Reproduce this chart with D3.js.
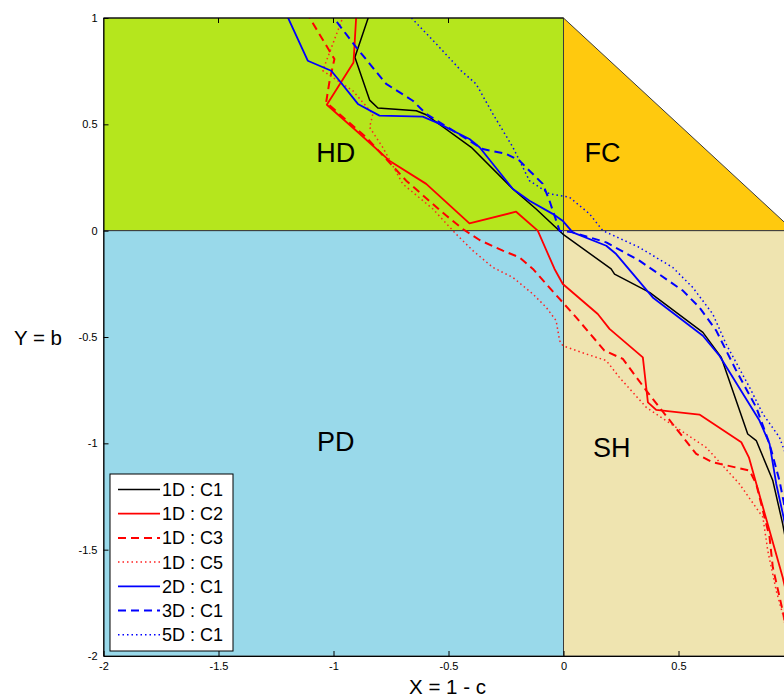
<!DOCTYPE html>
<html>
<head>
<meta charset="utf-8">
<script src="https://cdn.jsdelivr.net/npm/d3@7"></script>
<style>
  body { margin: 0; background: #fff; overflow: hidden; }
  svg { display: block; font-family: "Liberation Sans", Arial, sans-serif; }
  .axis text { font-size: 11px; fill: #000; font-family: "Liberation Sans", Arial, sans-serif; }
  .axis path, .axis line { stroke: #000; }
</style>
</head>
<body>
<div id="chart"></div>
<script>
// tick values (x = 1 sits just past the right edge of the picture)
var xTicks = [-2, -1.5, -1, -0.5, 0, 0.5];
var yTicks = [1, 0.5, 0, -0.5, -1, -1.5, -2];
var topTicks = [-1.5, -1, -0.5];

// regions of the game map (data space)
var regionNames = ["HD", "FC", "PD", "SH"];
var regionPolys = [
  [[-2, 0], [0, 0], [0, 1], [-2, 1]],
  [[0, 0], [1, 0], [0, 1]],
  [[-2, -2], [0, -2], [0, 0], [-2, 0]],
  [[0, -2], [1, -2], [1, 0], [0, 0]]
];
var regionLabelX = [-0.99, 0.17, -0.99, 0.21];
var regionLabelY = [0.37, 0.37, -0.99, -1.02];

// series
var seriesNames = ["1D : C1", "1D : C2", "1D : C3", "1D : C5", "2D : C1", "3D : C1", "5D : C1"];

var d1c1 = [[-0.84, 1.03], [-0.907, 0.815], [-0.843, 0.614], [-0.807, 0.577], [-0.64, 0.564], [-0.597, 0.545],
  [-0.401, 0.392], [-0.22, 0.196], [-0.119, 0.102], [-0.003, -0.016], [0.207, -0.18], [0.222, -0.204],
  [0.374, -0.29], [0.606, -0.478], [0.686, -0.596], [0.801, -0.956], [0.838, -0.987], [0.91, -1.175],
  [0.953, -1.379], [1.0, -1.65]];

var d1c2 = [[-0.9, 1.03], [-0.913, 0.791], [-1.029, 0.592], [-0.901, 0.47], [-0.757, 0.329], [-0.597, 0.22],
  [-0.409, 0.034], [-0.206, 0.089], [-0.112, 0.0], [-0.039, -0.18], [-0.003, -0.251], [0.149, -0.392],
  [0.2, -0.462], [0.345, -0.596], [0.367, -0.807], [0.403, -0.843], [0.591, -0.865], [0.773, -0.995],
  [0.806, -1.066], [0.953, -1.63], [1.0, -1.85]];

var d1c3 = [[-1.12, 1.03], [-0.996, 0.807], [-1.017, 0.705], [-1.032, 0.603], [-0.858, 0.439], [-0.684, 0.235],
  [-0.51, 0.071], [-0.438, 0.008], [-0.365, -0.044], [-0.264, -0.094], [-0.191, -0.126], [-0.133, -0.18],
  [-0.075, -0.251], [-0.017, -0.321], [0.055, -0.408], [0.178, -0.564], [0.258, -0.603], [0.36, -0.752],
  [0.577, -1.05], [0.649, -1.089], [0.809, -1.128], [0.838, -1.191], [0.896, -1.442], [0.91, -1.583],
  [0.953, -1.787], [0.98, -1.95]];

var d1c5 = [[-0.95, 1.03], [-1.047, 0.752], [-0.916, 0.658], [-0.829, 0.549], [-0.843, 0.486], [-0.786, 0.392],
  [-0.699, 0.22], [-0.568, 0.102], [-0.467, -0.016], [-0.394, -0.094], [-0.307, -0.173], [-0.22, -0.22],
  [-0.133, -0.298], [-0.075, -0.361], [-0.032, -0.423], [-0.017, -0.517], [-0.003, -0.541], [0.099, -0.58],
  [0.186, -0.611], [0.243, -0.69], [0.36, -0.831], [0.49, -0.925], [0.62, -1.019], [0.765, -1.191],
  [0.867, -1.348], [0.888, -1.504], [0.925, -1.693], [0.957, -1.818], [0.98, -1.95]];

var d2c1 = [[-1.21, 1.03], [-1.112, 0.799], [-1.01, 0.752], [-0.974, 0.705], [-0.894, 0.596], [-0.8, 0.541],
  [-0.612, 0.536], [-0.553, 0.509], [-0.409, 0.431], [-0.365, 0.392], [-0.22, 0.196], [-0.148, 0.141],
  [-0.047, 0.079], [-0.004, 0.047], [0.04, -0.008], [0.186, -0.071], [0.229, -0.11], [0.388, -0.314],
  [0.606, -0.494], [0.678, -0.588], [0.852, -0.893], [0.896, -1.003], [0.925, -1.191], [0.957, -1.348],
  [1.0, -1.6]];

var d3c1 = [[-1.02, 1.03], [-0.901, 0.862], [-0.771, 0.69], [-0.655, 0.611], [-0.597, 0.549], [-0.351, 0.384],
  [-0.249, 0.361], [-0.191, 0.329], [-0.148, 0.282], [-0.09, 0.22], [-0.061, 0.141], [-0.017, 0.0],
  [0.04, -0.008], [0.186, -0.055], [0.33, -0.141], [0.519, -0.282], [0.591, -0.361], [0.664, -0.47],
  [0.751, -0.658], [0.838, -0.831], [0.896, -1.003], [0.939, -1.175], [0.98, -1.4]];

var d5c1 = [[-0.661, 1.0], [-0.553, 0.878], [-0.445, 0.752], [-0.38, 0.69], [-0.307, 0.549], [-0.22, 0.392],
  [-0.148, 0.235], [-0.061, 0.173], [0.026, 0.157], [0.113, 0.079], [0.171, 0.0], [0.33, -0.079],
  [0.475, -0.173], [0.562, -0.267], [0.649, -0.392], [0.707, -0.533], [0.809, -0.737], [0.867, -0.862],
  [0.939, -0.972], [1.0, -1.15]];

var seriesData = [d1c1, d1c2, d1c3, d1c5, d2c1, d3c1, d5c1];

// styles
var regionColors = ["#b5e61d", "#ffc90e", "#99d9ea", "#efe4b0"];
var seriesStyles = [
  { color: "#000000", dash: null, width: 1.5 },
  { color: "#ff0000", dash: null, width: 1.8 },
  { color: "#ff0000", dash: "8,5", width: 2 },
  { color: "#ff2020", dash: "1.5,3", width: 1.5 },
  { color: "#0000ff", dash: null, width: 1.8 },
  { color: "#0000ff", dash: "8,5", width: 2 },
  { color: "#0000ff", dash: "1.5,3", width: 1.5 }
];

var width = 784;
var height = 697;

var svg = d3.select( "#chart" ).append( "svg" )
  .attr( "width", width )
  .attr( "height", height );

var x = d3.scaleLinear().domain( [-2, 1] ).range( [103.5, 793.5] );
var y = d3.scaleLinear().domain( [-2, 1] ).range( [656, 18] );

function plainNum( d ) { return String( d ); }

// coloured regions
var polyLine = d3.line()
  .x( function ( d ) { return x( d[0] ); } )
  .y( function ( d ) { return y( d[1] ); } );

svg.selectAll( ".region" )
  .data( regionPolys )
  .enter().append( "path" )
  .attr( "class", "region" )
  .attr( "d", function ( d ) { return polyLine( d ) + "Z"; } )
  .style( "fill", function ( d, i ) { return regionColors[i]; } )
  .style( "stroke", "#3a3a3a" )
  .style( "stroke-width", 1 );

// clip for the lines
svg.append( "clipPath" ).attr( "id", "plotclip" )
  .append( "rect" )
  .attr( "x", x( -2 ) )
  .attr( "y", y( 1 ) )
  .attr( "width", x( 1 ) - x( -2 ) )
  .attr( "height", y( -2 ) - y( 1 ) );

svg.append( "g" )
  .attr( "clip-path", "url(#plotclip)" )
  .selectAll( ".series" )
  .data( seriesData )
  .enter().append( "path" )
  .attr( "class", "series" )
  .attr( "d", polyLine )
  .style( "fill", "none" )
  .style( "stroke", function ( d, i ) { return seriesStyles[i].color; } )
  .style( "stroke-width", function ( d, i ) { return seriesStyles[i].width; } )
  .style( "stroke-dasharray", function ( d, i ) { return seriesStyles[i].dash; } )
  .style( "stroke-linejoin", "round" );

// region labels
svg.selectAll( ".region-label" )
  .data( regionNames )
  .enter().append( "text" )
  .attr( "class", "region-label" )
  .attr( "x", function ( d, i ) { return x( regionLabelX[i] ); } )
  .attr( "y", function ( d, i ) { return y( regionLabelY[i] ); } )
  .attr( "dy", "0.36em" )
  .style( "text-anchor", "middle" )
  .style( "font-size", "27px" )
  .text( function ( d ) { return d; } );

// axes
var xAxis = d3.axisBottom( x )
  .tickValues( xTicks )
  .tickSizeInner( -5 )
  .tickSizeOuter( 0 )
  .tickPadding( 6 )
  .tickFormat( plainNum );

svg.append( "g" )
  .attr( "class", "axis" )
  .attr( "transform", "translate(0," + y( -2 ) + ")" )
  .call( xAxis );

var yAxis = d3.axisLeft( y )
  .tickValues( yTicks )
  .tickSizeInner( -5 )
  .tickSizeOuter( 0 )
  .tickPadding( 6 )
  .tickFormat( plainNum );

svg.append( "g" )
  .attr( "class", "axis" )
  .attr( "transform", "translate(" + x( -2 ) + ",0)" )
  .call( yAxis );

// top edge of the box (stops where the FC triangle begins)
svg.append( "line" )
  .attr( "x1", x( -2 ) ).attr( "x2", x( 0 ) )
  .attr( "y1", y( 1 ) ).attr( "y2", y( 1 ) )
  .style( "stroke", "#000" );

svg.selectAll( ".top-tick" )
  .data( topTicks )
  .enter().append( "line" )
  .attr( "class", "top-tick" )
  .attr( "x1", function ( d ) { return x( d ); } )
  .attr( "x2", function ( d ) { return x( d ); } )
  .attr( "y1", y( 1 ) )
  .attr( "y2", y( 1 ) + 5 )
  .style( "stroke", "#000" );

// axis titles
svg.append( "text" )
  .attr( "x", ( x( -2 ) + x( 1 ) ) / 2 - 1 )
  .attr( "y", 694 )
  .style( "text-anchor", "middle" )
  .style( "font-size", "20.5px" )
  .text( "X = 1 - c" );

svg.append( "text" )
  .attr( "x", 62 )
  .attr( "y", ( y( 1 ) + y( -2 ) ) / 2 + 8 )
  .style( "text-anchor", "end" )
  .style( "font-size", "20.5px" )
  .text( "Y = b" );

// legend
var legend = svg.append( "g" ).attr( "transform", "translate(110,474)" );

legend.append( "rect" )
  .attr( "width", 123 )
  .attr( "height", 177 )
  .style( "fill", "#fff" )
  .style( "stroke", "#000" );

var item = legend.selectAll( ".legend-item" )
  .data( seriesNames )
  .enter().append( "g" )
  .attr( "class", "legend-item" )
  .attr( "transform", function ( d, i ) { return "translate(0," + ( 15.5 + i * 24.2 ) + ")"; } );

item.append( "line" )
  .attr( "x1", 8 )
  .attr( "x2", 50 )
  .style( "stroke", function ( d, i ) { return seriesStyles[i].color; } )
  .style( "stroke-width", function ( d, i ) { return seriesStyles[i].width; } )
  .style( "stroke-dasharray", function ( d, i ) { return seriesStyles[i].dash; } );

item.append( "text" )
  .attr( "x", 52 )
  .attr( "dy", "0.36em" )
  .style( "font-size", "18px" )
  .text( function ( d ) { return d; } );
</script>
</body>
</html>
